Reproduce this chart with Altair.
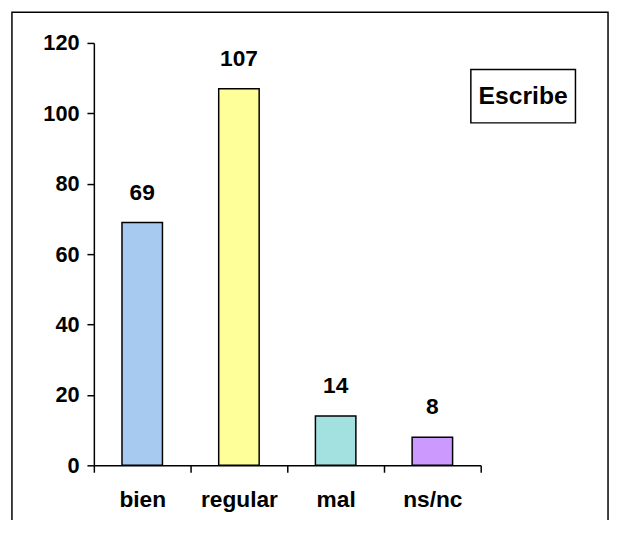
import altair as alt
import pandas as pd

categories = ["bien", "regular", "mal", "ns/nc"]
values = [69, 107, 14, 8]
colors = ["#A6CAF0", "#FFFF99", "#A3E0E0", "#CC99FF"]
y_ticks = [0, 20, 40, 60, 80, 100, 120]
legend_label = "Escribe"

FONT = "Liberation Sans"

df = pd.DataFrame({"cat": categories, "val": values})

x_enc = alt.X(
    "cat:N",
    sort=categories,
    scale=alt.Scale(paddingInner=0, paddingOuter=0),
    axis=alt.Axis(
        title=None, labelAngle=0, tickBand="extent", tickSize=7,
        labelPadding=17, labelFontSize=23,
    ),
)
y_enc = alt.Y(
    "val:Q",
    scale=alt.Scale(domain=[0, 120]),
    axis=alt.Axis(
        title=None, values=y_ticks, grid=False, tickSize=7,
        labelPadding=8, labelFontSize=22,
    ),
)

bars = alt.Chart(df).mark_bar(size=41, stroke="black", strokeWidth=1.5).encode(
    x=x_enc,
    y=y_enc,
    color=alt.Color("cat:N", scale=alt.Scale(domain=categories, range=colors), legend=None),
)

labels = alt.Chart(df).mark_text(
    dy=-30, fontSize=23, fontWeight="bold", font=FONT, baseline="middle", color="black"
).encode(
    x=alt.X("cat:N", sort=categories),
    y=alt.Y("val:Q"),
    text=alt.Text("val:Q"),
)

one = pd.DataFrame({"t": [legend_label]})

border = alt.Chart(one).mark_rect(fill=None, stroke="black", strokeWidth=1.5).encode(
    x=alt.value(-83), x2=alt.value(521), y=alt.value(-31), y2=alt.value(520)
)

legend_box = alt.Chart(one).mark_rect(fill="white", stroke="black", strokeWidth=1.5).encode(
    x=alt.value(382), x2=alt.value(488), y=alt.value(27), y2=alt.value(81)
)
legend_text = alt.Chart(one).mark_text(
    fontSize=25, fontWeight="bold", font=FONT, baseline="middle", align="center", color="black"
).encode(
    x=alt.value(435), y=alt.value(54), text="t:N"
)

chart = alt.layer(border, bars, labels, legend_box, legend_text).properties(
    width=392,
    height=428,
    autosize=alt.AutoSizeParams(type="none"),
    padding={"left": 87, "top": 32, "right": 131, "bottom": 52},
).configure_view(stroke=None).configure_axis(
    domainColor="black", tickColor="black", domainWidth=1.5, tickWidth=1.5,
    labelFont=FONT, labelFontWeight="bold", labelColor="black",
)

chart.save("out.html", embed_options={"renderer": "svg", "actions": False})
